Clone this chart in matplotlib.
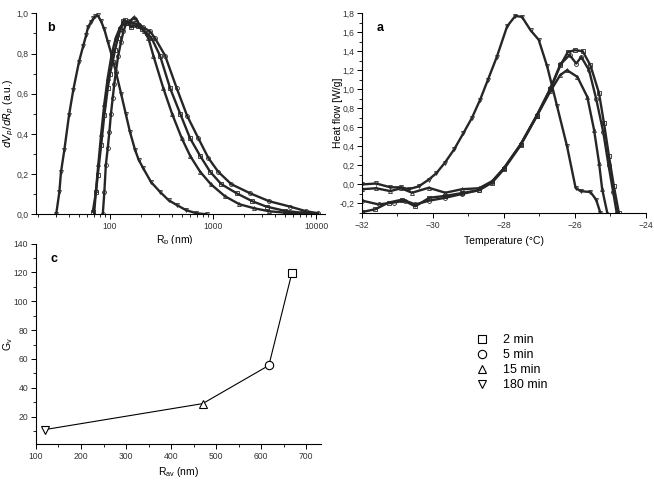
import matplotlib.pyplot as plt
from matplotlib.ticker import AutoMinorLocator, FuncFormatter, LogLocator, NullFormatter

plt.rcParams['font.family'] = ['Liberation Sans', 'DejaVu Sans']

# ---- panel b : pore size distributions ----
r_2min = [68, 73, 76, 82, 88, 95, 100, 106, 112, 119, 126, 133, 140, 150, 160, 170, 185, 205, 230, 254,
          305, 383, 480, 598, 750, 935, 1200, 1700, 2400, 3300, 5000, 7500, 10000]
v_2min = [0.013, 0.11, 0.195, 0.345, 0.494, 0.627, 0.70, 0.76, 0.82, 0.875, 0.92, 0.96, 0.965, 0.95, 0.93,
          0.94, 0.935, 0.92, 0.90, 0.875, 0.79, 0.627, 0.50, 0.378, 0.29, 0.212, 0.15, 0.104, 0.065, 0.038,
          0.017, 0.007, 0.003]
r_5min = [85, 88, 91, 95, 98.5, 102, 106, 110, 114, 120, 128, 135, 143, 150, 160, 175, 190, 210, 245, 274,
          342, 444, 560, 720, 900, 1120, 1500, 2300, 3500, 5600, 8000, 10500]
v_5min = [0, 0.11, 0.245, 0.33, 0.41, 0.50, 0.577, 0.65, 0.71, 0.79, 0.86, 0.91, 0.95, 0.96, 0.955, 0.95,
          0.94, 0.93, 0.91, 0.875, 0.79, 0.627, 0.49, 0.378, 0.28, 0.212, 0.15, 0.104, 0.065, 0.038, 0.015, 0.005]
r_15min = [70, 73, 77, 82, 88, 95, 104, 114, 125, 140, 155, 170, 180, 195, 215, 236, 263, 329, 400, 497,
           600, 748, 950, 1300, 1800, 2500, 3500, 5000, 7000]
v_15min = [0, 0.12, 0.25, 0.40, 0.55, 0.68, 0.80, 0.88, 0.93, 0.95, 0.96, 0.98, 0.97, 0.94, 0.91, 0.875,
           0.79, 0.627, 0.50, 0.378, 0.29, 0.212, 0.15, 0.09, 0.05, 0.03, 0.015, 0.008, 0.004]
r_180min = [30, 32.2, 33.4, 36, 40, 44, 50, 55, 58.5, 61, 65, 69, 72, 76, 82, 88, 95, 104, 115, 128, 142,
            156, 175, 190, 210, 250, 305, 370, 444, 550, 690, 865]
v_180min = [0, 0.11, 0.21, 0.32, 0.494, 0.62, 0.76, 0.84, 0.89, 0.93, 0.955, 0.975, 0.985, 0.99, 0.96, 0.92,
            0.86, 0.79, 0.70, 0.60, 0.50, 0.41, 0.32, 0.27, 0.229, 0.16, 0.112, 0.07, 0.046, 0.02, 0.005, 0]

# ---- panel a : DSC heat flow ----
t_2min = [-32, -31.62, -31.25, -30.87, -30.5, -30.1, -29.65, -29.18, -28.7, -28.33, -28.0, -27.53, -27.07,
          -26.69, -26.41, -26.2, -26.0, -25.78, -25.56, -25.32, -25.18, -25.04, -24.9, -24.76]
h_2min = [-0.29, -0.26, -0.19, -0.16, -0.23, -0.14, -0.12, -0.09, -0.06, 0.02, 0.16, 0.41, 0.72, 1.0, 1.25,
          1.39, 1.41, 1.40, 1.25, 0.96, 0.645, 0.30, -0.02, -0.30]
t_5min = [-32, -31.53, -31.1, -30.78, -30.5, -30.1, -29.65, -29.18, -28.7, -28.33, -28.0, -27.53, -27.07,
          -26.69, -26.41, -26.15, -25.96, -25.82, -25.6, -25.4, -25.2, -25.05, -24.92, -24.82]
h_5min = [-0.17, -0.21, -0.19, -0.17, -0.21, -0.17, -0.14, -0.10, -0.06, 0.03, 0.17, 0.42, 0.73, 1.01, 1.26,
          1.36, 1.27, 1.34, 1.20, 0.90, 0.55, 0.20, -0.08, -0.30]
t_15min = [-32, -31.6, -31.2, -30.9, -30.59, -30.12, -29.65, -29.18, -28.7, -28.33, -28.0, -27.53, -27.07,
           -26.69, -26.41, -26.22, -25.93, -25.65, -25.46, -25.32, -25.23, -25.08]
h_15min = [-0.05, -0.04, -0.07, -0.04, -0.087, -0.035, -0.087, -0.05, -0.04, 0.035, 0.17, 0.42, 0.72, 0.98,
           1.15, 1.20, 1.13, 0.92, 0.575, 0.23, -0.05, -0.31]
t_180min = [-32, -31.6, -31.2, -30.9, -30.68, -30.4, -30.12, -29.9, -29.66, -29.4, -29.14, -28.9, -28.67,
            -28.45, -28.2, -27.91, -27.68, -27.49, -27.25, -27.02, -26.78, -26.5, -26.22, -25.98, -25.84,
            -25.56, -25.4, -25.28]
h_180min = [0.0, 0.01, -0.03, -0.03, -0.05, -0.02, 0.05, 0.12, 0.23, 0.37, 0.54, 0.70, 0.89, 1.10, 1.34,
            1.66, 1.77, 1.76, 1.62, 1.52, 1.24, 0.82, 0.40, -0.035, -0.07, -0.08, -0.16, -0.30]

# ---- panel c : G_v vs R_av ----
labels = ["2 min", "5 min", "15 min", "180 min"]
markers = ["s", "o", "^", "v"]
r_av = [668, 617, 470, 120]
g_v = [119.5, 55.5, 29, 11]

comma = FuncFormatter(lambda v, p: f"{v:.1f}".replace(".", ","))

fig = plt.figure(figsize=(6.54, 4.90), dpi=100)
ax_b = fig.add_axes([0.055, 0.5627, 0.442, 0.410])
ax_a = fig.add_axes([0.5535, 0.5653, 0.434, 0.408])
ax_c = fig.add_axes([0.055, 0.0939, 0.436, 0.409])


def style(ax):
    for s in ("top", "right"):
        ax.spines[s].set_visible(False)
    for s in ("left", "bottom"):
        ax.spines[s].set_linewidth(0.8)
    ax.tick_params(which="major", direction="out", length=3.5, width=0.7, labelsize=6.2, pad=2,
                   labelcolor="#333333")
    ax.tick_params(which="minor", direction="out", length=2, width=0.6)


curve_kw = dict(color="#262626", lw=1.7, ms=2.8, mew=0.6, mfc="none")

series_b = [(r_2min, v_2min), (r_5min, v_5min), (r_15min, v_15min), (r_180min, v_180min)]
for (x, y), m in zip(series_b, markers):
    ax_b.plot(x, y, marker=m, **curve_kw)
ax_b.set_xscale("log")
ax_b.set_xlim(19.1, 12200)
ax_b.set_ylim(0, 1.0)
ax_b.set_xticks([100, 1000, 10000])
ax_b.set_xticklabels(["100", "1000", "10000"])
ax_b.xaxis.set_minor_locator(LogLocator(base=10, subs=range(2, 10)))
ax_b.xaxis.set_minor_formatter(NullFormatter())
ax_b.set_yticks([0, 0.2, 0.4, 0.6, 0.8, 1.0])
ax_b.yaxis.set_minor_locator(AutoMinorLocator(2))
ax_b.yaxis.set_major_formatter(comma)
style(ax_b)
ax_b.set_xlabel(r"R$_\mathregular{p}$ (nm)", fontsize=7.5)
ax_b.xaxis.set_label_coords(0.48, -0.095)
ax_b.set_ylabel(r"$dV_p/dR_p$ (a.u.)", fontsize=7.5)
ax_b.yaxis.set_label_coords(-0.07, 0.5)
ax_b.text(0.04, 0.955, "b", transform=ax_b.transAxes, fontsize=9, fontweight="bold", va="top")

series_a = [(t_2min, h_2min), (t_5min, h_5min), (t_15min, h_15min), (t_180min, h_180min)]
for (x, y), m in zip(series_a, markers):
    ax_a.plot(x, y, marker=m, **curve_kw)
ax_a.set_xlim(-32, -24)
ax_a.set_ylim(-0.3, 1.8)
ax_a.set_xticks([-32, -30, -28, -26, -24])
ax_a.xaxis.set_minor_locator(AutoMinorLocator(2))
ax_a.set_yticks([-0.2, 0, 0.2, 0.4, 0.6, 0.8, 1.0, 1.2, 1.4, 1.6, 1.8])
ax_a.yaxis.set_minor_locator(AutoMinorLocator(2))
ax_a.yaxis.set_major_formatter(comma)
style(ax_a)
ax_a.set_xlabel("Temperature (°C)", fontsize=7.5)
ax_a.xaxis.set_label_coords(0.5, -0.115)
ax_a.set_ylabel("Heat flow [W/g]", fontsize=7.5)
ax_a.yaxis.set_label_coords(-0.067, 0.5)
ax_a.text(0.05, 0.955, "a", transform=ax_a.transAxes, fontsize=9, fontweight="bold", va="top")

ax_c.plot(r_av, g_v, color="black", lw=0.8, zorder=1)
for x, y, m, lab in zip(r_av, g_v, markers, labels):
    ax_c.plot([x], [y], marker=m, ls="none", ms=6, mew=0.8, mec="black", mfc="white", label=lab, zorder=2)
ax_c.set_xlim(100, 733)
ax_c.set_ylim(1, 140)
ax_c.set_xticks([100, 200, 300, 400, 500, 600, 700])
ax_c.xaxis.set_minor_locator(AutoMinorLocator(2))
ax_c.set_yticks([20, 40, 60, 80, 100, 120, 140])
ax_c.yaxis.set_minor_locator(AutoMinorLocator(2))
style(ax_c)
ax_c.set_xlabel(r"R$_\mathregular{av}$ (nm)", fontsize=7.5)
ax_c.xaxis.set_label_coords(0.5, -0.105)
ax_c.set_ylabel(r"G$_\mathregular{v}$", fontsize=7.5)
ax_c.yaxis.set_label_coords(-0.072, 0.5)
ax_c.text(0.05, 0.955, "c", transform=ax_c.transAxes, fontsize=9, fontweight="bold", va="top")

handles, labs = ax_c.get_legend_handles_labels()
fig.legend(handles, labs, loc="upper left", bbox_to_anchor=(0.718, 0.331), bbox_transform=fig.transFigure,
           frameon=False, fontsize=9, handlelength=1.0, handletextpad=1.2, labelspacing=0.25, borderpad=0)

fig.savefig("out.png", dpi=100)
